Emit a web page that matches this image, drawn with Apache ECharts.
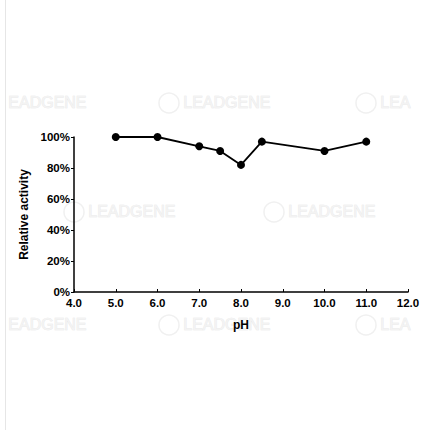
<!DOCTYPE html>
<html><head><meta charset="utf-8">
<script src="https://cdn.jsdelivr.net/npm/echarts@6/dist/echarts.min.js"></script>
<style>html,body{margin:0;padding:0;background:#fff}#c{width:427px;height:430px}</style>
</head><body><div id="c"></div>
<script>
const phValues = [5.0, 6.0, 7.0, 7.5, 8.0, 8.5, 10.0, 11.0];
const activity = [100, 100, 94, 91, 82, 97, 91, 97];
const xTicks = [4, 5, 6, 7, 8, 9, 10, 11, 12];
const yTicks = [0, 20, 40, 60, 80, 100];

const chart = echarts.init(document.getElementById('c'), null, {renderer: 'svg'});
const font = 'Liberation Sans, Arial, sans-serif';
const wm = [[8,94,'EADGENE'],[183,94,'LEADGENE'],[380,94,'LEA'],[88,203,'LEADGENE'],[288,203,'LEADGENE'],[8,316,'EADGENE'],[183,316,'LEADGENE'],[380,316,'LEA']];
const graphics = [];
wm.forEach(p => {
  graphics.push({type: 'text', left: p[0], top: p[1], z: -1, silent: true,
    style: {text: p[2], fill: '#f3f3f3', stroke: '#e6e6e6', lineWidth: 0.6, font: '16px ' + font}});
  if (p[0] > 10) graphics.push({type: 'circle', shape: {cx: p[0] - 14, cy: p[1] + 9, r: 10}, z: -1, silent: true,
    style: {fill: 'none', stroke: '#f0f0f0', lineWidth: 1.5}});
});
graphics.push({type: 'line', shape: {x1: 5.5, y1: 0, x2: 5.5, y2: 430}, silent: true, style: {stroke: '#e6e6e6', lineWidth: 1}});
chart.setOption({
  animation: false,
  graphic: graphics,
  grid: {left: 74, right: 19, top: 137, bottom: 138},
  xAxis: {
    type: 'value', min: 4, max: 12, interval: 1,
    name: 'pH', nameLocation: 'middle', nameGap: 27,
    nameTextStyle: {color: '#000', fontWeight: 'bold', fontSize: 12, fontFamily: font},
    axisLine: {lineStyle: {color: '#000', width: 1.5}},
    axisTick: {inside: true, length: 3, lineStyle: {color: '#000', width: 1}},
    axisLabel: {color: '#000', fontWeight: 'bold', fontSize: 11.5, fontFamily: font, margin: 5,
      formatter: v => v.toFixed(1)},
    splitLine: {show: false}
  },
  yAxis: {
    type: 'value', min: 0, max: 100, interval: 20,
    name: 'Relative activity', nameLocation: 'middle', nameGap: 44,
    nameTextStyle: {color: '#000', fontWeight: 'bold', fontSize: 12, fontFamily: font},
    axisLine: {show: true, lineStyle: {color: '#000', width: 1.5}},
    axisTick: {show: true, length: 3, lineStyle: {color: '#000', width: 1}},
    axisLabel: {color: '#000', fontWeight: 'bold', fontSize: 11.5, fontFamily: font, margin: 4,
      formatter: v => v + '%'},
    splitLine: {show: false}
  },
  series: [{
    type: 'line',
    data: phValues.map((x, i) => [x, activity[i]]),
    symbol: 'circle', symbolSize: 8,
    itemStyle: {color: '#000'},
    lineStyle: {color: '#000', width: 1.8}
  }]
});
</script></body></html>
